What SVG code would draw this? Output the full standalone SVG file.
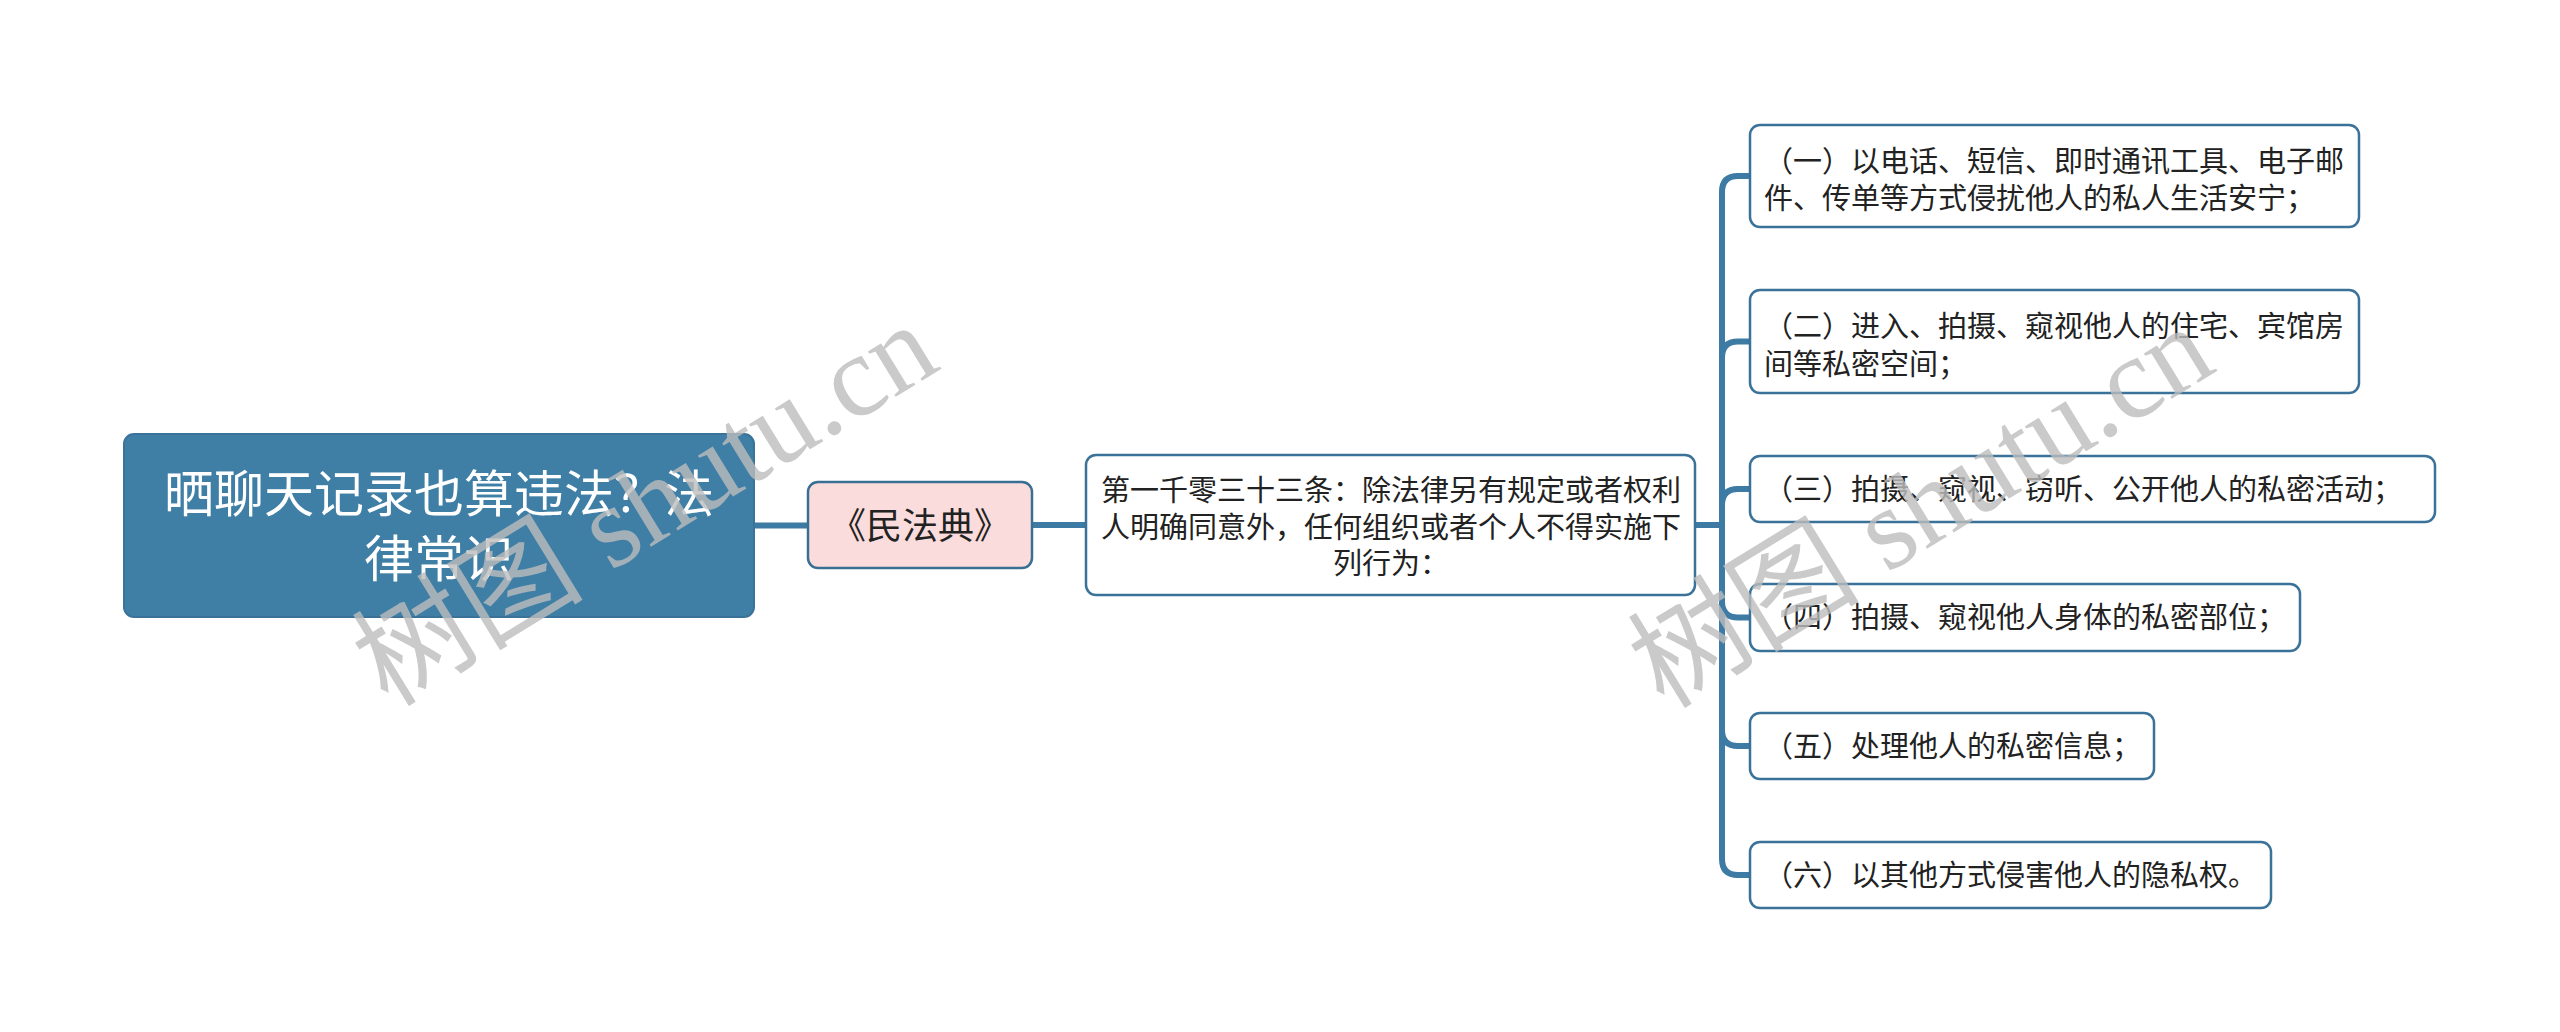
<svg xmlns="http://www.w3.org/2000/svg" width="2560" height="1032" viewBox="0 0 2560 1032">
<style>
.t{font-family:"Noto Sans CJK SC","Liberation Sans",sans-serif;}
.root{fill:#3f7fa6;stroke:#3a7299;stroke-width:2;}
.pink{fill:#fbdcdc;stroke:#3a6f94;stroke-width:2.5;}
.box{fill:#ffffff;stroke:#3a7299;stroke-width:2.5;}
.lbl{font-size:29px;fill:#222222;}
.conn{fill:none;stroke:#3d7ba5;stroke-width:6;stroke-linecap:butt;}
.wm{font-family:"Liberation Serif","Noto Sans CJK SC",serif;font-size:116px;fill:#bdbdbd;opacity:0.8;}
</style>
<rect width="2560" height="1032" fill="#ffffff"/>
<g id="connectors">
<path class="conn" d="M754 525.5 H808"/>
<path class="conn" d="M1032 525 H1086"/>
<path class="conn" d="M1695 525 H1722"/>
<path class="conn" d="M1722 525 V192 Q1722 176 1738 176 H1750"/>
<path class="conn" d="M1722 525 V357.5 Q1722 341.5 1738 341.5 H1750"/>
<path class="conn" d="M1722 525 V505 Q1722 489 1738 489 H1750"/>
<path class="conn" d="M1722 525 V601.5 Q1722 617.5 1738 617.5 H1750"/>
<path class="conn" d="M1722 525 V730 Q1722 746 1738 746 H1750"/>
<path class="conn" d="M1722 525 V859 Q1722 875 1738 875 H1750"/>
</g>
<g id="root">
<rect class="root" x="124" y="434" width="630" height="183" rx="10"/>
<text class="t" x="439" y="512" font-size="50" fill="#ffffff" text-anchor="middle">晒聊天记录也算违法？法</text>
<text class="t" x="439" y="577" font-size="50" fill="#ffffff" text-anchor="middle">律常识</text>
</g>
<g id="n-minfadian">
<rect class="pink" x="808" y="482" width="224" height="86" rx="10"/>
<text class="t" x="920" y="539" font-size="36" fill="#222222" text-anchor="middle">《民法典》</text>
</g>
<g id="n-article">
<rect class="box" x="1086" y="455" width="609" height="140" rx="10"/>
<text class="t lbl" x="1391" y="501" text-anchor="middle">第一千零三十三条：除法律另有规定或者权利</text>
<text class="t lbl" x="1391" y="538" text-anchor="middle">人明确同意外，任何组织或者个人不得实施下</text>
<text class="t lbl" x="1391" y="574" text-anchor="middle">列行为：</text>
</g>
<g id="c1">
<rect class="box" x="1750" y="125" width="609" height="102" rx="10"/>
<text class="t lbl" x="1764" y="172">（一）以电话、短信、即时通讯工具、电子邮</text>
<text class="t lbl" x="1764" y="209">件、传单等方式侵扰他人的私人生活安宁；</text>
</g>
<g id="c2">
<rect class="box" x="1750" y="290" width="609" height="103" rx="10"/>
<text class="t lbl" x="1764" y="337">（二）进入、拍摄、窥视他人的住宅、宾馆房</text>
<text class="t lbl" x="1764" y="375">间等私密空间；</text>
</g>
<g id="c3">
<rect class="box" x="1750" y="456" width="685" height="66" rx="10"/>
<text class="t lbl" x="1764" y="500">（三）拍摄、窥视、窃听、公开他人的私密活动；</text>
</g>
<g id="c4">
<rect class="box" x="1750" y="584" width="550" height="67" rx="10"/>
<text class="t lbl" x="1764" y="628">（四）拍摄、窥视他人身体的私密部位；</text>
</g>
<g id="c5">
<rect class="box" x="1750" y="713" width="404" height="66" rx="10"/>
<text class="t lbl" x="1764" y="757">（五）处理他人的私密信息；</text>
</g>
<g id="c6">
<rect class="box" x="1750" y="842" width="521" height="66" rx="10"/>
<text class="t lbl" x="1764" y="886">（六）以其他方式侵害他人的隐私权。</text>
</g>
<g id="watermarks">
<text class="wm" transform="translate(388 708) rotate(-31.5)">树图 shutu.cn</text>
<text class="wm" transform="translate(1664 710) rotate(-31.5)">树图 shutu.cn</text>
</g>
</svg>
